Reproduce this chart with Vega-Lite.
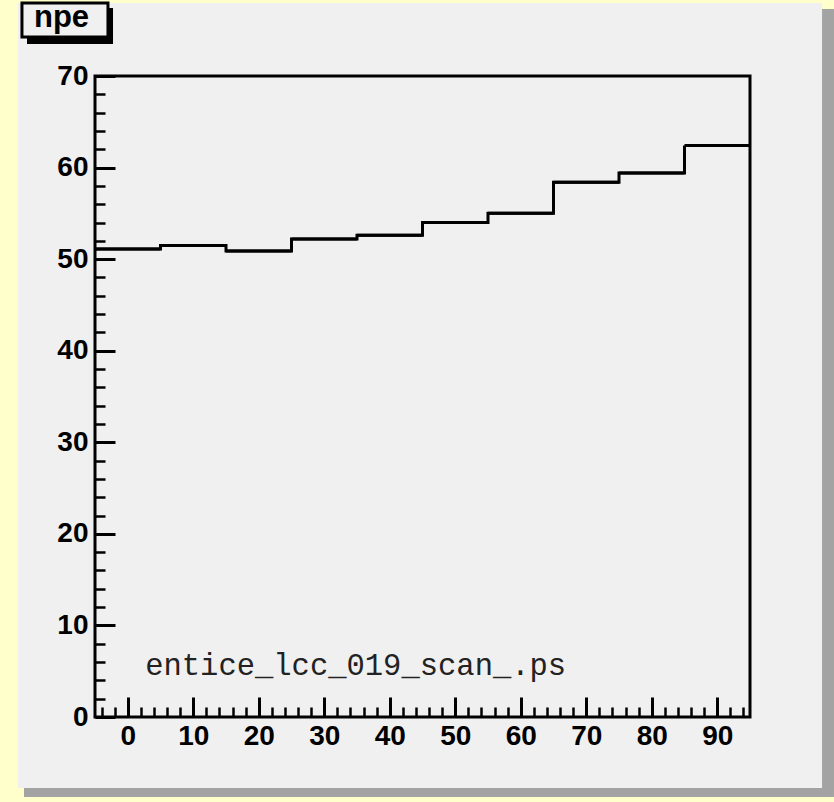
{
  "$schema": "https://vega.github.io/schema/vega-lite/v6.json",
  "width": 655,
  "height": 641,
  "autosize": {"type": "none"},
  "padding": {"left": 95, "top": 76, "right": 84, "bottom": 85},
  "background": "#ffffcc",
  "config": {"view": {"stroke": null, "fill": null}},
  "data": {
    "values": [
      {"bin": 0, "lo": -5, "hi": 5, "npe": 51.1},
      {"bin": 10, "lo": 5, "hi": 15, "npe": 51.5},
      {"bin": 20, "lo": 15, "hi": 25, "npe": 50.9},
      {"bin": 30, "lo": 25, "hi": 35, "npe": 52.2},
      {"bin": 40, "lo": 35, "hi": 45, "npe": 52.6},
      {"bin": 50, "lo": 45, "hi": 55, "npe": 54.0},
      {"bin": 60, "lo": 55, "hi": 65, "npe": 55.0},
      {"bin": 70, "lo": 65, "hi": 75, "npe": 58.4},
      {"bin": 80, "lo": 75, "hi": 85, "npe": 59.4},
      {"bin": 90, "lo": 85, "hi": 95, "npe": 62.4}
    ]
  },
  "layer": [
    {
      "data": {"values": [{}]},
      "mark": {"type": "rect", "fill": "#a3a3a3"},
      "encoding": {
        "x": {"datum": -15.84, "type": "quantitative", "scale": {"domain": [-5, 95], "nice": false, "zero": false}, "axis": null},
        "x2": {"datum": 107.82},
        "y": {"datum": 77.32, "type": "quantitative", "scale": {"domain": [0, 70], "nice": false, "zero": false}, "axis": null},
        "y2": {"datum": -8.74}
      }
    },
    {
      "data": {"values": [{}]},
      "mark": {"type": "rect", "fill": "#f0f0f0"},
      "encoding": {
        "x": {"datum": -16.76, "type": "quantitative", "scale": {"domain": [-5, 95], "nice": false, "zero": false}, "axis": null},
        "x2": {"datum": 106.0},
        "y": {"datum": 77.97, "type": "quantitative", "scale": {"domain": [0, 70], "nice": false, "zero": false}, "axis": null},
        "y2": {"datum": -7.75}
      }
    },
    {
      "data": {"values": [{}]},
      "mark": {"type": "rect", "fill": "black"},
      "encoding": {
        "x": {"datum": -15.38, "type": "quantitative", "scale": {"domain": [-5, 95], "nice": false, "zero": false}, "axis": null},
        "x2": {"datum": -2.25},
        "y": {"datum": 77.43, "type": "quantitative", "scale": {"domain": [0, 70], "nice": false, "zero": false}, "axis": null},
        "y2": {"datum": 73.49}
      }
    },
    {
      "data": {"values": [{}]},
      "mark": {"type": "rect", "fill": "#f0f0f0", "stroke": "black", "strokeWidth": 3},
      "encoding": {
        "x": {"datum": -16.15, "type": "quantitative", "scale": {"domain": [-5, 95], "nice": false, "zero": false}, "axis": null},
        "x2": {"datum": -3.02},
        "y": {"datum": 77.97, "type": "quantitative", "scale": {"domain": [0, 70], "nice": false, "zero": false}, "axis": null},
        "y2": {"datum": 74.26}
      }
    },
    {
      "data": {"values": [{"label": "npe"}]},
      "mark": {"type": "text", "font": "Liberation Sans", "fontWeight": "bold", "fontSize": 31, "align": "center", "baseline": "alphabetic", "color": "black"},
      "encoding": {
        "x": {"datum": -10.11, "type": "quantitative", "scale": {"domain": [-5, 95], "nice": false, "zero": false}, "axis": null},
        "y": {"datum": 75.35, "type": "quantitative", "scale": {"domain": [0, 70], "nice": false, "zero": false}, "axis": null},
        "text": {"field": "label"}
      }
    },
    {
      "mark": {"type": "line", "interpolate": "step-after", "color": "black", "strokeWidth": 3},
      "encoding": {
        "x": {
          "field": "lo", "type": "quantitative",
          "scale": {"domain": [-5, 95], "nice": false, "zero": false},
          "axis": {"orient": "bottom", "values": [0, 10, 20, 30, 40, 50, 60, 70, 80, 90], "tickSize": -20, "tickWidth": 3, "tickColor": "black", "domain": false, "grid": false, "labelFont": "Liberation Sans", "labelFontWeight": "bold", "labelFontSize": 28, "labelColor": "black", "labelPadding": 25, "labelFlush": false, "labelOverlap": false, "title": null, "zindex": 1}
        },
        "y": {
          "field": "npe", "type": "quantitative",
          "scale": {"domain": [0, 70], "nice": false, "zero": false},
          "axis": {"orient": "left", "values": [0, 10, 20, 30, 40, 50, 60, 70], "tickSize": -20, "tickWidth": 3, "tickColor": "black", "domain": false, "grid": false, "labelFont": "Liberation Sans", "labelFontWeight": "bold", "labelFontSize": 28, "labelColor": "black", "labelPadding": 27, "labelFlush": false, "labelOverlap": false, "title": null, "zindex": 1}
        }
      }
    },
    {
      "mark": {"type": "rule", "color": "black", "strokeWidth": 3},
      "encoding": {
        "x": {
          "field": "lo", "type": "quantitative",
          "scale": {"domain": [-5, 95], "nice": false, "zero": false},
          "axis": {"orient": "bottom", "values": [-4, -2, 0, 2, 4, 6, 8, 10, 12, 14, 16, 18, 20, 22, 24, 26, 28, 30, 32, 34, 36, 38, 40, 42, 44, 46, 48, 50, 52, 54, 56, 58, 60, 62, 64, 66, 68, 70, 72, 74, 76, 78, 80, 82, 84, 86, 88, 90, 92, 94], "tickSize": -10, "tickWidth": 2.5, "tickColor": "black", "domain": false, "grid": false, "labels": false, "title": null, "zindex": 1}
        },
        "x2": {"field": "hi"},
        "y": {
          "field": "npe", "type": "quantitative",
          "scale": {"domain": [0, 70], "nice": false, "zero": false},
          "axis": {"orient": "left", "values": [0, 2, 4, 6, 8, 10, 12, 14, 16, 18, 20, 22, 24, 26, 28, 30, 32, 34, 36, 38, 40, 42, 44, 46, 48, 50, 52, 54, 56, 58, 60, 62, 64, 66, 68, 70], "tickSize": -10, "tickWidth": 2.5, "tickColor": "black", "domain": false, "grid": false, "labels": false, "title": null, "zindex": 1}
        }
      }
    },
    {
      "data": {"values": [{}]},
      "mark": {"type": "rect", "filled": false, "stroke": "black", "strokeWidth": 3},
      "encoding": {
        "x": {"datum": -5, "type": "quantitative", "scale": {"domain": [-5, 95], "nice": false, "zero": false}, "axis": null},
        "x2": {"datum": 95},
        "y": {"datum": 0, "type": "quantitative", "scale": {"domain": [0, 70], "nice": false, "zero": false}, "axis": null},
        "y2": {"datum": 70}
      }
    },
    {
      "data": {"values": [{"label": "entice_lcc_019_scan_.ps"}]},
      "mark": {"type": "text", "font": "Liberation Mono", "fontSize": 30.5, "align": "left", "baseline": "alphabetic", "color": "#222222"},
      "encoding": {
        "x": {"datum": 2.66, "type": "quantitative", "scale": {"domain": [-5, 95], "nice": false, "zero": false}, "axis": null},
        "y": {"datum": 4.59, "type": "quantitative", "scale": {"domain": [0, 70], "nice": false, "zero": false}, "axis": null},
        "text": {"field": "label"}
      }
    }
  ],
  "resolve": {"axis": {"x": "independent", "y": "independent"}}
}
